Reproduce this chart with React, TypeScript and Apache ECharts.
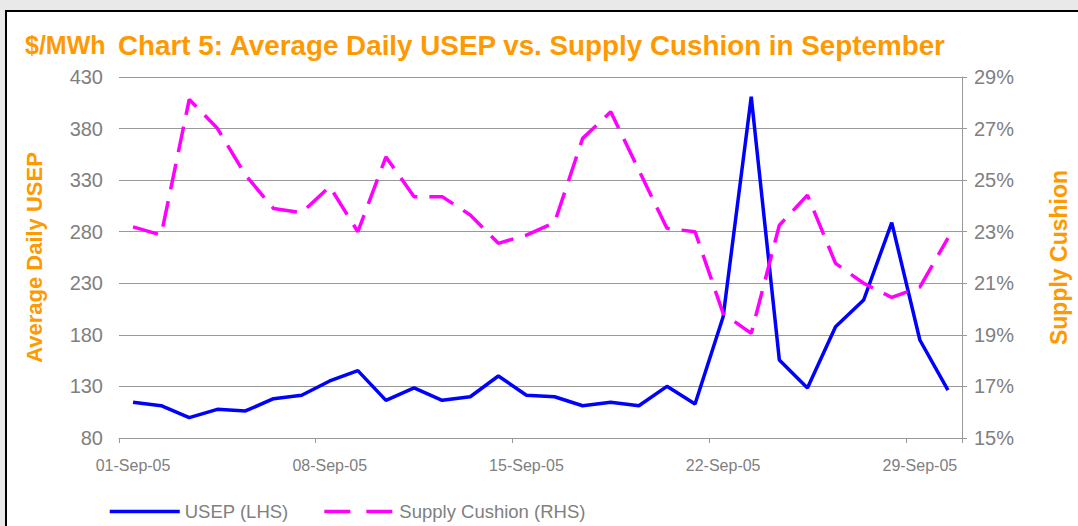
import React, { useEffect, useRef } from "react";
import * as echarts from "echarts";

const dates = [
  "01-Sep-05", "02-Sep-05", "03-Sep-05", "04-Sep-05", "05-Sep-05", "06-Sep-05",
  "07-Sep-05", "08-Sep-05", "09-Sep-05", "10-Sep-05", "11-Sep-05", "12-Sep-05",
  "13-Sep-05", "14-Sep-05", "15-Sep-05", "16-Sep-05", "17-Sep-05", "18-Sep-05",
  "19-Sep-05", "20-Sep-05", "21-Sep-05", "22-Sep-05", "23-Sep-05", "24-Sep-05",
  "25-Sep-05", "26-Sep-05", "27-Sep-05", "28-Sep-05", "29-Sep-05", "30-Sep-05",
];

const usep = [
  114.6, 111.3, 99.7, 107.8, 106.2, 118.1, 121.4, 135.3, 145.3, 116.5,
  128.5, 116.5, 120.0, 140.1, 121.5, 120.0, 111.3, 114.6, 111.3, 130.1,
  113.0, 197.6, 410.9, 155.6, 128.5, 187.9, 213.8, 288.9, 175.0, 126.5,
];

const cushion = [
  23.19, 22.87, 28.13, 27.01, 25.2, 23.9, 23.74, 24.75, 23.0, 25.9,
  24.36, 24.36, 23.65, 22.55, 22.87, 23.35, 26.62, 27.65, 25.39, 23.13,
  23.0, 19.83, 19.06, 23.25, 24.42, 21.77, 21.0, 20.45, 20.85, 22.75,
];

const seriesNames = ["USEP (LHS)", "Supply Cushion (RHS)"];
const titleText = "Chart 5: Average Daily USEP vs. Supply Cushion in September";
const unitText = "$/MWh";
const leftAxisName = "Average Daily USEP";
const rightAxisName = "Supply Cushion";

const FONT = "'Liberation Sans', Arial, sans-serif";
const ORANGE = "#FF9900";
const GRAY_TEXT = "#808080";
const GRAY_LINE = "#999999";

export default function App() {
  const ref = useRef<HTMLDivElement>(null);

  useEffect(() => {
    if (!ref.current) return;
    const chart = echarts.init(ref.current, undefined, { renderer: "svg" });
    chart.setOption({
      animation: false,
      backgroundColor: "transparent",
      title: [
        {
          text: titleText,
          left: 118,
          top: 31,
          padding: 0,
          textStyle: { color: ORANGE, fontSize: 27.8, fontWeight: "bold", fontFamily: FONT },
        },
        {
          text: unitText,
          left: 25,
          top: 32,
          padding: 0,
          textStyle: { color: ORANGE, fontSize: 25, fontWeight: "bold", fontFamily: FONT },
        },
      ],
      legend: {
        left: 108,
        top: 502,
        padding: 0,
        itemWidth: 70,
        itemHeight: 14,
        itemGap: 34,
        itemStyle: { opacity: 0 },
        lineStyle: { width: 3.5 },
        textStyle: { color: GRAY_TEXT, fontSize: 18.5, fontFamily: FONT },
        data: [
          { name: seriesNames[0] },
          { name: seriesNames[1], lineStyle: { width: 3.5, type: [26, 16] } },
        ],
      },
      grid: { left: 119, top: 77, width: 844, height: 361 },
      xAxis: {
        type: "category",
        data: dates,
        boundaryGap: true,
        axisLine: { show: true, lineStyle: { color: GRAY_LINE, width: 1 } },
        axisTick: { show: true, interval: 6, length: 5, lineStyle: { color: GRAY_LINE } },
        axisLabel: {
          interval: 6,
          color: GRAY_TEXT,
          fontSize: 16,
          fontFamily: FONT,
          margin: 19,
        },
        splitLine: { show: false },
      },
      yAxis: [
        {
          type: "value",
          min: 80,
          max: 430,
          interval: 50,
          position: "left",
          name: leftAxisName,
          nameLocation: "middle",
          nameRotate: 90,
          nameGap: 74,
          nameTextStyle: { color: ORANGE, fontSize: 22, fontWeight: "bold", fontFamily: FONT },
          axisLine: { show: false },
          axisTick: { show: false },
          axisLabel: { color: GRAY_TEXT, fontSize: 20, fontFamily: FONT, margin: 16 },
          splitLine: { show: true, lineStyle: { color: GRAY_LINE, width: 1 } },
        },
        {
          type: "value",
          min: 15,
          max: 29,
          interval: 2,
          position: "right",
          name: rightAxisName,
          nameLocation: "middle",
          nameRotate: 90,
          nameGap: 85,
          nameTextStyle: { color: ORANGE, fontSize: 23, fontWeight: "bold", fontFamily: FONT },
          axisLine: { show: true, lineStyle: { color: GRAY_LINE, width: 1 } },
          axisTick: { show: true, length: 5, lineStyle: { color: GRAY_LINE } },
          axisLabel: {
            color: GRAY_TEXT,
            fontSize: 20,
            fontFamily: FONT,
            margin: 12,
            formatter: "{value}%",
          },
          splitLine: { show: false },
        },
      ],
      series: [
        {
          name: seriesNames[0],
          type: "line",
          data: usep,
          yAxisIndex: 0,
          symbol: "none",
          showSymbol: false,
          itemStyle: { color: "#0000FF" },
          lineStyle: { color: "#0000FF", width: 3.5 },
        },
        {
          name: seriesNames[1],
          type: "line",
          data: cushion,
          yAxisIndex: 1,
          symbol: "none",
          showSymbol: false,
          itemStyle: { color: "#FF00FF" },
          lineStyle: { color: "#FF00FF", width: 3.5, type: [26, 12] },
        },
      ],
    });
    return () => chart.dispose();
  }, []);

  return (
    <div style={{ position: "fixed", left: 0, top: 0, width: 1078, height: 526, background: "#e9e9e9", overflow: "hidden" }}>
      <div
        style={{
          position: "absolute",
          left: 5,
          top: 10,
          width: 1200,
          height: 600,
          border: "2px solid #000",
          background: "#ffffff",
        }}
      />
      <div ref={ref} style={{ position: "absolute", left: 0, top: 0, width: 1078, height: 526 }} />
    </div>
  );
}
